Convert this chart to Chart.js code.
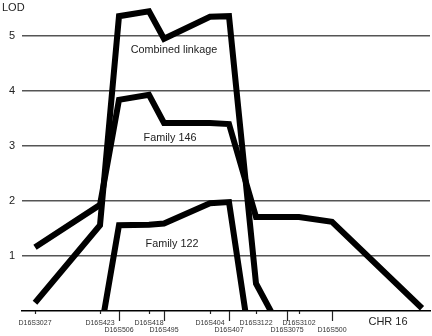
<!DOCTYPE html>
<html>
<head>
<meta charset="utf-8">
<script src="https://cdn.jsdelivr.net/npm/chart.js@4/dist/chart.umd.min.js"></script>
<style>
  html, body { margin: 0; padding: 0; background: #fff; }
  #wrap { width: 432px; height: 336px; }
</style>
</head>
<body>
<div id="wrap"><canvas id="lod"></canvas></div>
<script>
// markers along chromosome 16 (relative map position)
const markers = ['D16S3027', 'D16S423', 'D16S506', 'D16S418', 'D16S495', 'D16S404', 'D16S407', 'D16S3122', 'D16S3075', 'D16S3102', 'D16S500'];
const markerPos = [13, 78, 97, 127, 142, 188, 207, 234, 265, 277, 310];
const labelRow = [1, 1, 2, 1, 2, 1, 2, 1, 2, 1, 2];
const yTicks = [1, 2, 3, 4, 5];

// LOD scores per marker (null = not plotted)
const combined = [0.15, 1.56, 5.36, 5.45, 4.95, 5.35, 5.36, 0.5, -0.55, null, null];
const family146 = [1.16, 1.93, 3.84, 3.93, 3.42, 3.42, 3.40, 1.71, 1.71, 1.71, 1.62];
const family122 = [null, -0.45, 1.56, 1.57, 1.59, 1.96, 1.98, -1.3, null, null, null];
// family 146 runs on to the end of the chromosome
const chrEndPos = 400;
const family146End = 0.05;

function pts(vals, extra) {
  const out = [];
  vals.forEach((v, i) => { if (v !== null) out.push({ x: markerPos[i], y: v }); });
  if (extra) out.push(extra);
  return out;
}

const FONT = "'Liberation Sans', Arial, sans-serif";

const extras = {
  id: 'extras',
  afterDraw(chart) {
    const ctx = chart.ctx;
    const xs = chart.scales.x, ys = chart.scales.y;
    const base = chart.chartArea.bottom;
    ctx.save();
    // marker ticks, long ones for second label row
    ctx.strokeStyle = '#222';
    ctx.lineWidth = 1.2;
    markerPos.forEach((p, i) => {
      const px = Math.round(xs.getPixelForValue(p)) + 0.5;
      ctx.beginPath();
      ctx.moveTo(px, base);
      ctx.lineTo(px, base + (labelRow[i] === 2 ? 10 : 3));
      ctx.stroke();
    });
    ctx.fillStyle = '#222';
    ctx.textBaseline = 'middle';
    ctx.font = '11px ' + FONT;
    ctx.textAlign = 'left';
    ctx.fillText('LOD', 2, 8);
    ctx.textAlign = 'center';
    ctx.fillText('CHR 16', 388, 322);
    ctx.font = '10.8px ' + FONT;
    ctx.fillText('Combined linkage', xs.getPixelForValue(152), ys.getPixelForValue(4.75));
    ctx.fillText('Family 146', xs.getPixelForValue(148), ys.getPixelForValue(3.15));
    ctx.fillText('Family 122', xs.getPixelForValue(150), ys.getPixelForValue(1.22));
    ctx.restore();
  }
};

const lineStyle = {
  borderColor: '#000',
  borderWidth: 6,
  borderJoinStyle: 'miter',
  pointRadius: 0,
  tension: 0,
  fill: false,
  clip: 0
};

new Chart(document.getElementById('lod'), {
  type: 'line',
  data: {
    datasets: [
      Object.assign({ label: 'Combined linkage', data: pts(combined) }, lineStyle),
      Object.assign({ label: 'Family 146', data: pts(family146, { x: chrEndPos, y: family146End }) }, lineStyle),
      Object.assign({ label: 'Family 122', data: pts(family122) }, lineStyle)
    ]
  },
  options: {
    responsive: true,
    maintainAspectRatio: false,
    animation: false,
    layout: { padding: { top: 3, right: 2, left: 0, bottom: 0 } },
    plugins: { legend: { display: false }, tooltip: { enabled: false } },
    scales: {
      x: {
        type: 'linear',
        min: 0, max: 408,
        afterBuildTicks: s => { s.ticks = markerPos.map(v => ({ value: v })); },
        afterFit: s => { s.height = 25; s.paddingLeft = 0; s.paddingRight = 0; },
        grid: { display: false, drawTicks: false },
        border: { display: true, color: '#000', width: 1.5 },
        ticks: {
          autoSkip: false, maxRotation: 0, padding: 8,
          color: '#333',
          font: { family: FONT, size: 7, lineHeight: 1.1 },
          callback: (v, i) => labelRow[i] === 2 ? ['', markers[i]] : markers[i]
        }
      },
      y: {
        min: 0, max: 5.6,
        afterBuildTicks: s => { s.ticks = yTicks.map(v => ({ value: v })); },
        afterFit: s => { s.width = 22; s.paddingTop = 0; s.paddingBottom = 0; },
        grid: { color: '#555', lineWidth: 1.5, drawTicks: false },
        border: { display: false },
        ticks: {
          padding: 7,
          color: '#222',
          font: { family: FONT, size: 11 }
        }
      }
    }
  },
  plugins: [extras]
});
</script>
</body>
</html>
